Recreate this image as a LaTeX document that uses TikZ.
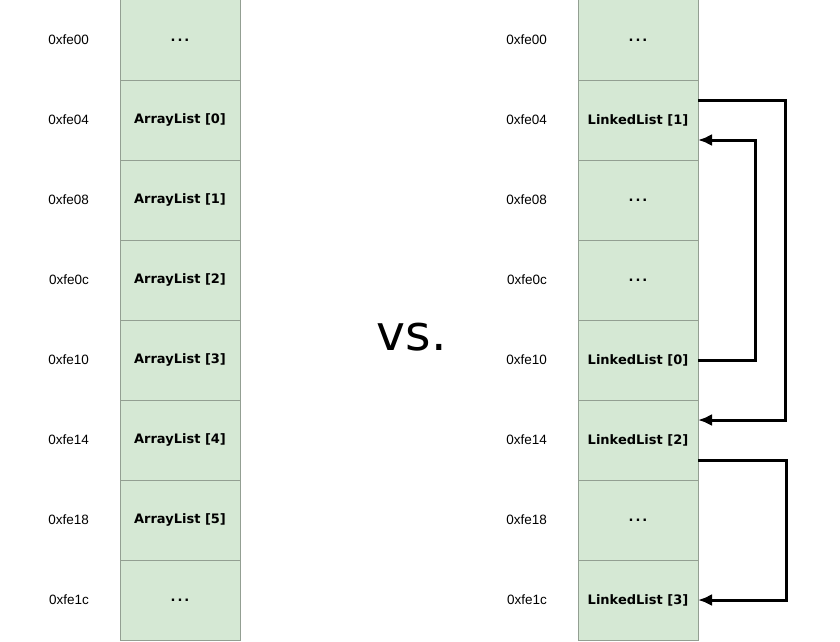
\documentclass[tikz,border=0pt]{standalone}
\usepackage{fontspec}
\setmainfont{DejaVu Sans}
\newfontfamily\addrfont{Liberation Sans}
\usetikzlibrary{positioning,arrows.meta}
\definecolor{cellfill}{HTML}{D5E8D4}
\definecolor{cellline}{HTML}{939F92}
\newcommand{\gapdots}{\raisebox{-2pt}{.\kern2pt.\kern2pt.}}

\begin{document}
\begin{tikzpicture}[x=1pt,y=-1pt,node distance=0pt,
    cell/.style={draw=cellline,fill=cellfill,line width=1pt,minimum width=120pt,minimum height=80pt,
        inner sep=0pt,outer sep=0pt,font=\fontsize{13}{15}\selectfont\bfseries},
    addr/.style={font=\addrfont\fontsize{13.5}{16}\selectfont,inner sep=0pt},
    link/.style={line width=3pt,-{Latex[length=14pt,width=12pt]}}]
    \useasboundingbox (0,0) rectangle (840,642);
        % left memory column
        \node[cell] (l0) at (180,40) {\gapdots};
        \node[cell,below=of l0] (l1) {ArrayList [0]};
        \node[cell,below=of l1] (l2) {ArrayList [1]};
        \node[cell,below=of l2] (l3) {ArrayList [2]};
        \node[cell,below=of l3] (l4) {ArrayList [3]};
        \node[cell,below=of l4] (l5) {ArrayList [4]};
        \node[cell,below=of l5] (l6) {ArrayList [5]};
        \node[cell,below=of l6] (l7) {\gapdots};
        \node[addr,left=31pt of l0] {0xfe00};
        \node[addr,left=31pt of l1] {0xfe04};
        \node[addr,left=31pt of l2] {0xfe08};
        \node[addr,left=31pt of l3] {0xfe0c};
        \node[addr,left=31pt of l4] {0xfe10};
        \node[addr,left=31pt of l5] {0xfe14};
        \node[addr,left=31pt of l6] {0xfe18};
        \node[addr,left=31pt of l7] {0xfe1c};
        % right memory column
        \node[cell] (r0) at (638,40) {\gapdots};
        \node[cell,below=of r0] (r1) {LinkedList [1]};
        \node[cell,below=of r1] (r2) {\gapdots};
        \node[cell,below=of r2] (r3) {\gapdots};
        \node[cell,below=of r3] (r4) {LinkedList [0]};
        \node[cell,below=of r4] (r5) {LinkedList [2]};
        \node[cell,below=of r5] (r6) {\gapdots};
        \node[cell,below=of r6] (r7) {LinkedList [3]};
        \node[addr,left=31pt of r0] {0xfe00};
        \node[addr,left=31pt of r1] {0xfe04};
        \node[addr,left=31pt of r2] {0xfe08};
        \node[addr,left=31pt of r3] {0xfe0c};
        \node[addr,left=31pt of r4] {0xfe10};
        \node[addr,left=31pt of r5] {0xfe14};
        \node[addr,left=31pt of r6] {0xfe18};
        \node[addr,left=31pt of r7] {0xfe1c};
        \node[font=\fontsize{49}{56}\selectfont,inner sep=0pt,anchor=base] (vs) at (412,350) {vs.};
        % next pointers
        \draw[link] ([yshift=20pt]r1.east) -- ++(87,0) |- ([yshift=20pt]r5.east);
        \draw[link] (r4.east) -- ++(57,0) |- ([yshift=-20pt]r1.east);
        \draw[link] ([yshift=-20pt]r5.east) -- ++(88,0) |- (r7.east);
    \end{tikzpicture}
\end{document}
